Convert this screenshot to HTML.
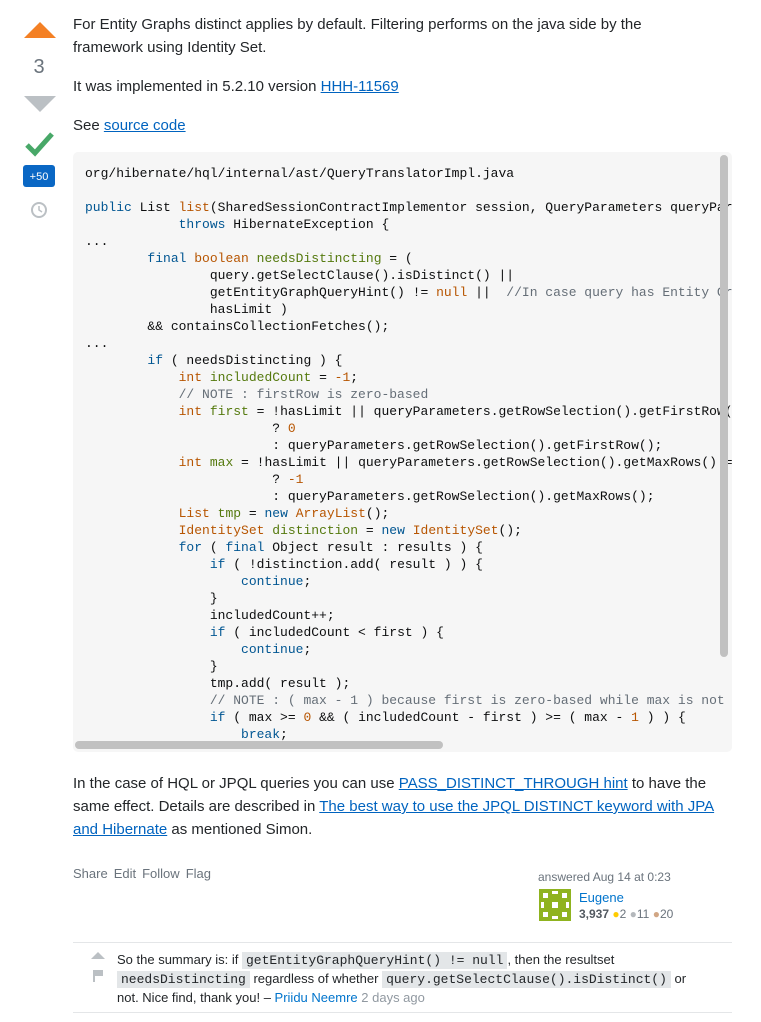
<!DOCTYPE html>
<html><head><meta charset="utf-8"><style>
*{margin:0;padding:0;box-sizing:border-box}
body{width:761px;height:1022px;background:#fff;font-family:"Liberation Sans",sans-serif;color:#232629;position:relative;overflow:hidden}
.a{position:absolute}
p{font-size:15px;line-height:23px}
a{color:#0063bf;text-decoration:underline}
.code{left:73px;top:152px;width:659px;height:600px;background:#f6f6f6;border-radius:5px;overflow:hidden}
pre{position:absolute;left:12px;top:13px;font-family:"Liberation Mono",monospace;font-size:13px;line-height:17px;color:#0c0d0e;white-space:pre}
.k{color:#015692}.t{color:#b75501}.v{color:#54790d}.c{color:#656e77}.n{color:#b75501}
.cm code{font-family:"Liberation Mono",monospace;background:#e3e6e8;padding:1px 4px;font-size:13px;line-height:15px}
.sh span{margin-right:6px}
</style></head><body>
<svg class="a" style="left:22px;top:20px" width="36" height="200">
<polygon points="2,18 18,2 34,18" fill="#f48024"/>
<polygon points="2,76 34,76 18,92" fill="#bbc0c4"/>
<polyline points="5,125 13,133 30,114" fill="none" stroke="#48a868" stroke-width="5"/>
<rect x="1" y="145" width="32" height="22" rx="3" fill="#0a67c4"/>
<text x="17" y="160" font-size="11" fill="#fff" text-anchor="middle" font-family="Liberation Sans">+50</text>
<circle cx="17" cy="190" r="7" fill="none" stroke="#bbc0c4" stroke-width="2"/>
<polyline points="17,186 17,190 20,192" fill="none" stroke="#bbc0c4" stroke-width="1.5"/>
</svg>
<div class="a" style="left:22px;top:56px;width:34px;text-align:center;font-size:20px;color:#6a737c">3</div>

<p class="a" style="left:73px;top:13px;width:600px">For Entity Graphs distinct applies by default. Filtering performs on the java side by the framework using Identity Set.</p>
<p class="a" style="left:73px;top:75px">It was implemented in 5.2.10 version <a>HHH-11569</a></p>
<p class="a" style="left:73px;top:114px">See <a>source code</a></p>

<div class="a code"><pre>org/hibernate/hql/internal/ast/QueryTranslatorImpl.java

<span class="k">public</span> List <span class="t">list</span>(SharedSessionContractImplementor session, QueryParameters queryParameters)
            <span class="k">throws</span> HibernateException {
...
        <span class="k">final</span> <span class="t">boolean</span> <span class="v">needsDistincting</span> = (
                query.getSelectClause().isDistinct() ||
                getEntityGraphQueryHint() != <span class="t">null</span> ||  <span class="c">//In case query has Entity Graph</span>
                hasLimit )
        &amp;&amp; containsCollectionFetches();
...
        <span class="k">if</span> ( needsDistincting ) {
            <span class="t">int</span> <span class="v">includedCount</span> = <span class="n">-1</span>;
            <span class="c">// NOTE : firstRow is zero-based</span>
            <span class="t">int</span> <span class="v">first</span> = !hasLimit || queryParameters.getRowSelection().getFirstRow() == null
                        ? <span class="n">0</span>
                        : queryParameters.getRowSelection().getFirstRow();
            <span class="t">int</span> <span class="v">max</span> = !hasLimit || queryParameters.getRowSelection().getMaxRows() == null
                        ? <span class="n">-1</span>
                        : queryParameters.getRowSelection().getMaxRows();
            <span class="t">List</span> <span class="v">tmp</span> = <span class="k">new</span> <span class="t">ArrayList</span>();
            <span class="t">IdentitySet</span> <span class="v">distinction</span> = <span class="k">new</span> <span class="t">IdentitySet</span>();
            <span class="k">for</span> ( <span class="k">final</span> Object result : results ) {
                <span class="k">if</span> ( !distinction.add( result ) ) {
                    <span class="k">continue</span>;
                }
                includedCount++;
                <span class="k">if</span> ( includedCount &lt; first ) {
                    <span class="k">continue</span>;
                }
                tmp.add( result );
                <span class="c">// NOTE : ( max - 1 ) because first is zero-based while max is not</span>
                <span class="k">if</span> ( max &gt;= <span class="n">0</span> &amp;&amp; ( includedCount - first ) &gt;= ( max - <span class="n">1</span> ) ) {
                    <span class="k">break</span>;</pre>
<div class="a" style="left:647px;top:3px;width:8px;height:502px;border-radius:4px;background:#c1c1c1"></div>
<div class="a" style="left:2px;top:589px;width:368px;height:8px;border-radius:4px;background:#c1c1c1"></div>
</div>

<p class="a" style="left:73px;top:772px;width:665px">In the case of HQL or JPQL queries you can use <a>PASS_DISTINCT_THROUGH hint</a> to have the same effect. Details are described in <a>The best way to use the JPQL DISTINCT keyword with JPA and Hibernate</a> as mentioned Simon.</p>

<div class="a sh" style="left:73px;top:866px;font-size:13px;color:#6a737c"><span>Share</span><span>Edit</span><span>Follow</span><span>Flag</span></div>
<div class="a" style="left:538px;top:870px;font-size:12px;color:#6a737c">answered Aug 14 at 0:23</div>
<svg class="a" style="left:539px;top:889px" width="32" height="32"><rect width="32" height="32" fill="#8fb31f"/><g fill="#fff"><rect x="4" y="4" width="5" height="5"/><rect x="23" y="4" width="5" height="5"/><rect x="4" y="23" width="5" height="5"/><rect x="23" y="23" width="5" height="5"/><rect x="13" y="13" width="6" height="6"/><rect x="13" y="2" width="6" height="3"/><rect x="13" y="27" width="6" height="3"/><rect x="2" y="13" width="3" height="6"/><rect x="27" y="13" width="3" height="6"/></g></svg>
<div class="a" style="left:579px;top:890px;font-size:13px;color:#0074cc">Eugene</div>
<div class="a" style="left:579px;top:907px;font-size:12px;color:#6a737c"><b style="color:#525960">3,937</b> <span style="color:#ffcc01">●</span>2 <span style="color:#b4b8bc">●</span>11 <span style="color:#d1a684">●</span>20</div>

<div class="a" style="left:73px;top:942px;width:659px;border-top:1px solid #e4e6e8"></div>
<div class="a" style="left:73px;top:1012px;width:659px;border-top:1px solid #e4e6e8"></div>
<svg class="a" style="left:90px;top:950px" width="16" height="34"><polygon points="1,9 8,2 15,9" fill="#bbc0c4"/><rect x="3" y="20" width="2" height="12" fill="#bbc0c4"/><rect x="5" y="20" width="8" height="6" fill="#bbc0c4"/></svg>
<div class="a cm" style="left:117px;top:950px;width:582px;font-size:13px;line-height:19px">So the summary is: if <code>getEntityGraphQueryHint() != null</code>, then the resultset <code>needsDistincting</code> regardless of whether <code>query.getSelectClause().isDistinct()</code> or not. Nice find, thank you! – <span style="color:#0074cc">Priidu Neemre</span> <span style="color:#9199a1">2 days ago</span></div>
</body></html>
